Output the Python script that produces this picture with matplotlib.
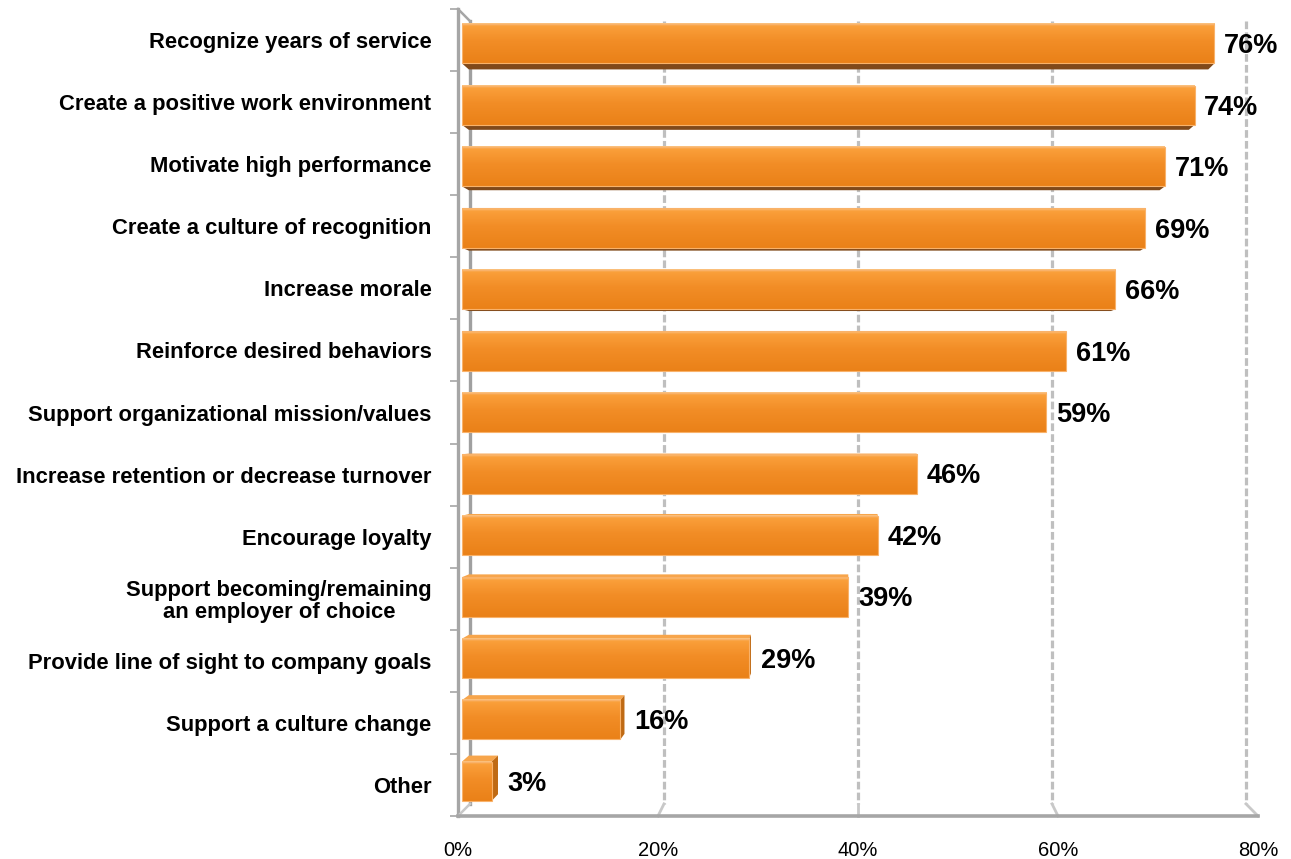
"""Horizontal 3D-style bar chart of recognition program objectives."""

import matplotlib

matplotlib.use("Agg")
import matplotlib.pyplot as plt
import numpy as np
from matplotlib.colors import LinearSegmentedColormap
from matplotlib.patches import Polygon

categories = [
    "Recognize years of service",
    "Create a positive work environment",
    "Motivate high performance",
    "Create a culture of recognition",
    "Increase morale",
    "Reinforce desired behaviors",
    "Support organizational mission/values",
    "Increase retention or decrease turnover",
    "Encourage loyalty",
    "Support becoming/remaining\nan employer of choice",
    "Provide line of sight to company goals",
    "Support a culture change",
    "Other",
]
values = [76, 74, 71, 69, 66, 61, 59, 46, 42, 39, 29, 16, 3]
x_ticks = [0, 20, 40, 60, 80]
x_tick_labels = ["0%", "20%", "40%", "60%", "80%"]

plt.rcParams["font.family"] = ["Liberation Sans", "DejaVu Sans"]

X_MAX = x_ticks[-1]
N = len(categories)
VP = (X_MAX / 2, (N - 1) / 2)        # vanishing point in data units
FRONT_K, BACK_K, WALL_K = 0.01, 0.027, 0.03
HALF = 0.32
GRID = "#BFBFBF"
AXIS = "#A6A6A6"

face_cmap = LinearSegmentedColormap.from_list(
    "face",
    [(0.0, "#FCC383"), (0.07, "#FA9F3A"), (0.45, "#F28D26"), (1.0, "#EA8118")],
)


def project(x, y, k):
    """Push a point toward the vanishing point by depth fraction k."""
    return x + (VP[0] - x) * k, y + (VP[1] - y) * k


fig = plt.figure(figsize=(12.91, 8.59), dpi=100)
ax = fig.add_axes([458 / 1291, 1 - 816 / 859, 800 / 1291, 807 / 859])
for s in ax.spines.values():
    s.set_visible(False)

top, bottom = -0.5, N - 0.5

# back wall gridlines and their floor edges
for v in x_ticks[1:]:
    (bx, by0) = project(v, top, WALL_K)
    (_, by1) = project(v, bottom, WALL_K)
    ax.plot([bx, bx], [by0, by1], color=GRID, lw=2.3,
            linestyle=(0, (2.4, 1.0)), solid_capstyle="butt", zorder=1)
    ax.plot([bx, v], [by1, bottom], color="#C8C8C8", lw=2.0, zorder=1,
            clip_on=False)

# left wall: back edge, front axis and the connecting diagonals
bx0, by0 = project(0, top, WALL_K)
_, by1 = project(0, bottom, WALL_K)
ax.plot([bx0, bx0], [by0, by1], color="#A0A0A0", lw=2.4, zorder=1)
ax.plot([0, 0], [top, bottom], color=AXIS, lw=2.4, zorder=1, clip_on=False)
ax.plot([0, bx0], [top, by0], color=AXIS, lw=1.8, zorder=1, clip_on=False)
ax.plot([0, bx0], [bottom, by1], color="#C8C8C8", lw=1.8, zorder=1,
        clip_on=False)
ax.plot([0, X_MAX], [bottom, bottom], color=AXIS, lw=2.6, zorder=1,
        clip_on=False)

gradient = np.linspace(0, 1, 64).reshape(-1, 1)

for i, v in enumerate(values):
    yt, yb = i - HALF, i + HALF

    # visible side faces of the box
    if yb < VP[1]:
        pts = [project(0, yb, FRONT_K), project(v, yb, FRONT_K),
               project(v, yb, BACK_K), project(0, yb, BACK_K)]
        ax.add_patch(Polygon(pts, closed=True, facecolor="#80491A",
                             edgecolor="none", zorder=2))
    if yt > VP[1]:
        pts = [project(0, yt, FRONT_K), project(v, yt, FRONT_K),
               project(v, yt, BACK_K), project(0, yt, BACK_K)]
        ax.add_patch(Polygon(pts, closed=True, facecolor="#F7A54B",
                             edgecolor="none", zorder=2))
    if v < VP[0]:
        pts = [project(v, yt, FRONT_K), project(v, yb, FRONT_K),
               project(v, yb, BACK_K), project(v, yt, BACK_K)]
        ax.add_patch(Polygon(pts, closed=True, facecolor="#BF6A14",
                             edgecolor="none", zorder=2))

    # front face with vertical shading
    x0, fy0 = project(0, yt, FRONT_K)
    x1, fy1 = project(v, yb, FRONT_K)
    ax.imshow(gradient, cmap=face_cmap, aspect="auto", origin="upper",
              extent=(x0, x1, fy1, fy0), interpolation="bilinear", zorder=3)
    ax.add_patch(Polygon([(x0, fy0), (x1, fy0), (x1, fy1), (x0, fy1)],
                         closed=True, fill=False, edgecolor="#F9B26A",
                         lw=0.8, zorder=3))

    right = max(x1, project(v, yt, BACK_K)[0])
    ax.annotate(f"{v}%", xy=(right, (fy0 + fy1) / 2 + 0.04), xytext=(7, 0),
                textcoords="offset points", ha="left", va="center",
                fontsize=19.5, fontweight="bold", color="black", zorder=4)

ax.set_xlim(0, X_MAX)
ax.set_ylim(bottom, top)

ax.set_xticks(x_ticks)
ax.set_xticklabels(x_tick_labels, fontsize=14.5)
ax.tick_params(axis="x", length=0, pad=18)

ax.set_yticks(range(N))
ax.set_yticklabels(categories, fontsize=15.8, fontweight="bold")
for lbl in ax.get_yticklabels():
    lbl.set_multialignment("center")
    lbl.set_linespacing(1.05)
ax.set_yticks(np.arange(top, bottom + 0.5), minor=True)
ax.tick_params(axis="y", which="major", length=0, pad=19)
ax.tick_params(axis="y", which="minor", length=6, width=1.2, color=AXIS)

fig.savefig("out.png", dpi=100)
